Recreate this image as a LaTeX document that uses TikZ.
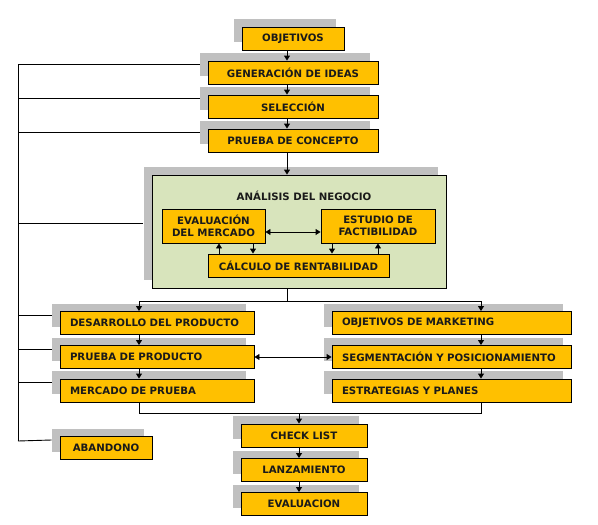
\documentclass[tikz,border=0pt]{standalone}
\usepackage{fontspec}
\setmainfont{DejaVu Sans}
\usetikzlibrary{arrows.meta,shadows,calc}
\definecolor{boxyellow}{HTML}{FFC000}
\definecolor{shadowgray}{HTML}{C0C0C0}
\definecolor{panelgreen}{HTML}{D8E4BC}
\definecolor{txt}{HTML}{1A1A1A}
\begin{document}
\begin{tikzpicture}[x=1pt,y=-1pt,
  font=\fontsize{10.2}{11.5}\selectfont\bfseries,
  shad/.style={general shadow={fill=shadowgray,shadow xshift=-8pt,shadow yshift=8pt}},
  box/.style={draw=black,line width=0.9pt,fill=boxyellow,text=txt,inner sep=0pt,minimum height=23pt},
  sbox/.style={box,shad},
  lbox/.style={sbox,align=left,inner xsep=10pt},
  panel/.style={draw=black,line width=0.9pt,fill=panelgreen,shad},
  conn/.style={line width=0.9pt,black},
  arr/.style={conn,-{Triangle[length=5pt,width=6pt]}},
  darr/.style={conn,{Triangle[length=5pt,width=6pt]}-{Triangle[length=5pt,width=6pt]}}
]
\useasboundingbox (0,0) rectangle (598,525);
% top chain
\node[sbox,minimum width=102pt] (obj) at (293,38.5) {OBJETIVOS};
\node[sbox,minimum width=170pt] (gen) at (293,72.5) {GENERACIÓN DE IDEAS};
\node[sbox,minimum width=170pt] (sel) at (293,106.5) {SELECCIÓN};
\node[sbox,minimum width=170pt] (pc) at (293,140.5) {PRUEBA DE CONCEPTO};
% analysis panel
\node[panel,minimum width=294pt,minimum height=113pt] (ana) at (299,231.5) {};
\node[text=txt] (anat) at (304,196) {ANÁLISIS DEL NEGOCIO};
\node[box,minimum width=103pt,minimum height=34pt,align=center] (eval) at (213.5,226) {EVALUACIÓN\\DEL MERCADO};
\node[box,minimum width=114pt,minimum height=34pt,align=center] (estu) at (378,226) {ESTUDIO DE\\FACTIBILIDAD};
\node[box,minimum width=181pt] (calc) at (298.5,265.5) {CÁLCULO DE RENTABILIDAD};
% lower blocks
\node[lbox,minimum width=194pt,text width=174pt] (des) at (157,323) {\mbox{DESARROLLO DEL PRODUCTO}};
\node[lbox,minimum width=194pt,text width=174pt] (pp) at (157,357) {\mbox{PRUEBA DE PRODUCTO}};
\node[lbox,minimum width=194pt,text width=174pt] (mp) at (157,390.5) {\mbox{MERCADO DE PRUEBA}};
\node[lbox,minimum width=239pt,text width=219pt] (om) at (451.5,323) {\mbox{OBJETIVOS DE MARKETING}};
\node[lbox,minimum width=239pt,text width=219pt] (seg) at (451.5,357) {\mbox{SEGMENTACIÓN Y POSICIONAMIENTO}};
\node[lbox,minimum width=239pt,text width=219pt] (est) at (451.5,390.5) {\mbox{ESTRATEGIAS Y PLANES}};
\node[sbox,minimum width=126pt] (ck) at (304,435.5) {CHECK LIST};
\node[sbox,minimum width=126pt] (lan) at (304,470) {LANZAMIENTO};
\node[sbox,minimum width=126pt] (ev) at (304,504) {EVALUACION};
\node[sbox,minimum width=92pt] (ab) at (106,448) {ABANDONO};
% guide coordinates
\coordinate (spine) at (287,0);
\coordinate (lcol) at (139,0);
\coordinate (rcol) at (481,0);
\coordinate (ccol) at (299,0);
\coordinate (split) at (287,301);
\coordinate (join) at (299,413);
\coordinate (bus) at (18,441);
% top arrows
\draw[arr] (obj.south -| spine) -- (gen.north -| spine);
\draw[arr] (gen.south -| spine) -- (sel.north -| spine);
\draw[arr] (sel.south -| spine) -- (pc.north -| spine);
\draw[arr] (pc.south -| spine) -- (ana.north -| spine);
% inside panel
\coordinate (h1) at (0,232);
\draw[darr] (eval.east |- h1) -- (estu.west |- h1);
\coordinate (c1) at (219,0);\coordinate (c2) at (253,0);\coordinate (c3) at (332,0);\coordinate (c4) at (378,0);
\draw[arr] (calc.north -| c1) -- (eval.south -| c1);
\draw[arr] (eval.south -| c2) -- (calc.north -| c2);
\draw[arr] (estu.south -| c3) -- (calc.north -| c3);
\draw[arr] (calc.north -| c4) -- (estu.south -| c4);
% split
\draw[conn] (ana.south -| spine) -- (split);
\draw[arr] (split) -| (des.north -| lcol);
\draw[arr] (split) -| (om.north -| rcol);
\draw[arr] (des.south -| lcol) -- (pp.north -| lcol);
\draw[arr] (pp.south -| lcol) -- (mp.north -| lcol);
\draw[arr] (om.south -| rcol) -- (seg.north -| rcol);
\draw[arr] (seg.south -| rcol) -- (est.north -| rcol);
\draw[darr] (pp.east) -- (seg.west);
% join
\draw[conn] (mp.south -| lcol) |- (join);
\draw[conn] (est.south -| rcol) |- (join);
\draw[arr] (join) -- (ck.north -| ccol);
\draw[arr] (ck.south -| ccol) -- (lan.north -| ccol);
\draw[arr] (lan.south -| ccol) -- (ev.north -| ccol);
% left bus
\draw[conn] ($(gen.west)+(-8,-8)$) -| (bus);
\draw[conn] ($(sel.west)+(-8,-8)$) -| (bus);
\draw[conn] ($(pc.west)+(-8,-8)$) -| (bus);
\draw[conn] ($(ana.west)+(-9,-8)$) -| (bus);
\draw[conn] ($(des.west)+(-8,-8)$) -| (bus);
\draw[conn] ($(pp.west)+(-8,-8)$) -| (bus);
\draw[conn] ($(mp.west)+(-8,-8)$) -| (bus);
\draw[conn] ($(ab.west)+(-8,-8)$) -- (bus);
\end{tikzpicture}
\end{document}
